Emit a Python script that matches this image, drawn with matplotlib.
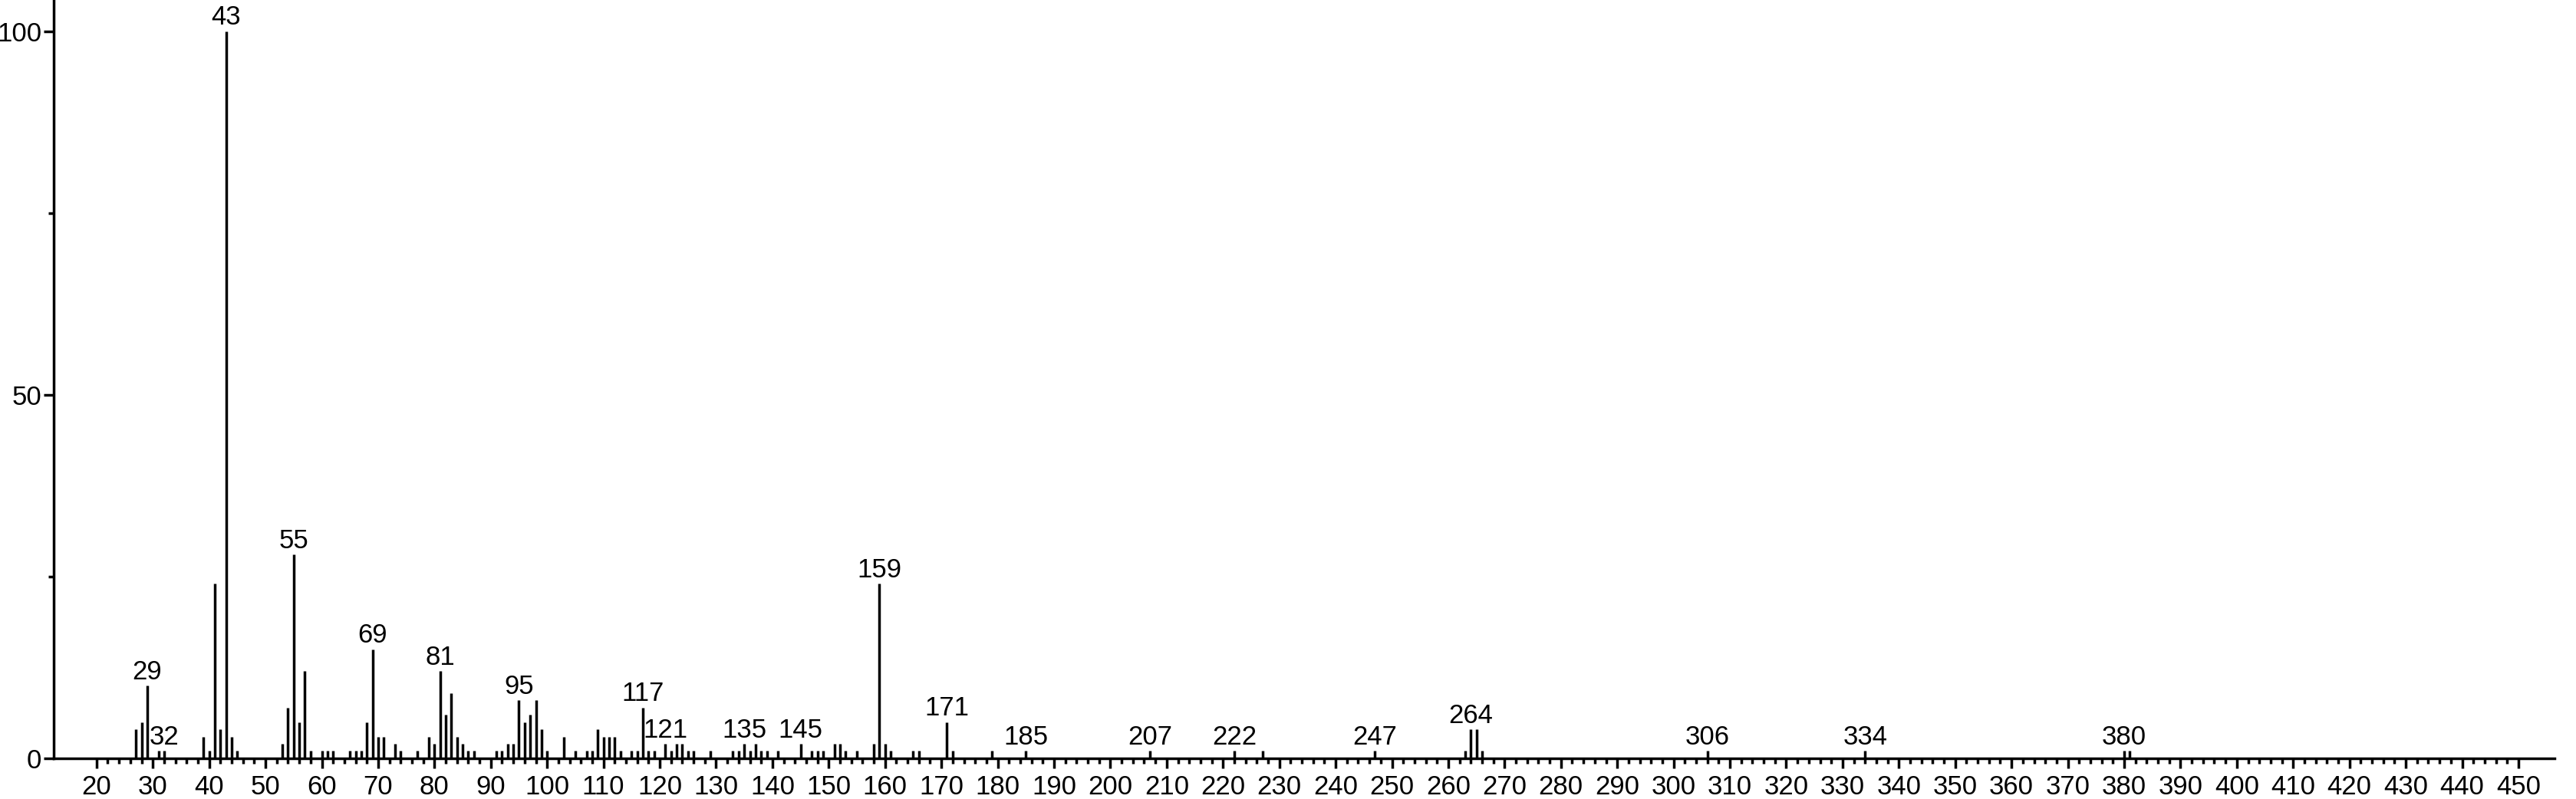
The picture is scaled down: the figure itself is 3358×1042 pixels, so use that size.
"""
Mass spectrum (EI) stick plot, relative abundance vs m/z.
"""

import numpy as np
import matplotlib
matplotlib.use("Agg")
import matplotlib.pyplot as plt
from matplotlib.ticker import FixedLocator


# Data

MZ = [
    27, 28, 29, 31, 32, 39, 40, 41, 42, 43, 44, 45,
    53, 54, 55, 56, 57, 58, 60, 61, 62,
    65, 66, 67, 68, 69, 70, 71, 73, 74, 77,
    79, 80, 81, 82, 83, 84, 85, 86, 87,
    91, 92, 93, 94, 95, 96, 97, 98, 99, 100, 103,
    105, 107, 108, 109, 110, 111, 112, 113, 115, 116, 117, 118, 119,
    121, 122, 123, 124, 125, 126, 129,
    133, 134, 135, 136, 137, 138, 139, 141,
    145, 147, 148, 149, 151, 152, 153, 155,
    158, 159, 160, 161, 165, 166, 171, 172, 179,
    185, 207, 222, 227, 247, 263, 264, 265, 266, 306, 334, 380, 381,
]
INTENSITY = [
    4, 5, 10, 1, 1, 3, 1, 24, 4, 100, 3, 1,
    2, 7, 28, 5, 12, 1, 1, 1, 1,
    1, 1, 1, 5, 15, 3, 3, 2, 1, 1,
    3, 2, 12, 6, 9, 3, 2, 1, 1,
    1, 1, 2, 2, 8, 5, 6, 8, 4, 1, 3,
    1, 1, 1, 4, 3, 3, 3, 1, 1, 1, 7, 1, 1,
    2, 1, 2, 2, 1, 1, 1,
    1, 1, 2, 1, 2, 1, 1, 1,
    2, 1, 1, 1, 2, 2, 1, 1,
    2, 24, 2, 1, 1, 1, 5, 1, 1,
    1, 1, 1, 1, 1, 1, 4, 4, 1, 1, 1, 1, 1,
]
LABELED_MZ = [29, 32, 43, 55, 69, 81, 95, 117, 121, 135, 145, 159,
              171, 185, 207, 222, 247, 264, 306, 334, 380]

X_MAJOR = list(range(20, 451, 10))
X_MINOR = [v for v in range(20, 451, 2) if v % 10]
Y_MAJOR = [0, 50, 100]
Y_MINOR = [25, 75]


# Style

C_INK = "#000000"
FONT = ["Liberation Sans", "DejaVu Sans"]
FS = 25
LW = 2.5

plt.rcParams["font.family"] = FONT

fig = plt.figure(figsize=(33.58, 10.42), dpi=100, facecolor="white")
ax = fig.add_axes([0.02085, 0.0509, 0.9708, 0.9491])

mz = np.array(MZ)
inten = np.array(INTENSITY)
ax.vlines(mz, 0, inten, color=C_INK, linewidth=LW)

lookup = dict(zip(MZ, INTENSITY))
for m in LABELED_MZ:
    ax.annotate(str(m), xy=(m, lookup[m]), xytext=(0, 1),
                textcoords="offset points", ha="center", va="bottom",
                fontsize=FS, color=C_INK, annotation_clip=False)

ax.set_xlim(12.4, 456.4)
ax.set_ylim(0, 104.3)

for side in ("top", "right"):
    ax.spines[side].set_visible(False)
for side in ("left", "bottom"):
    ax.spines[side].set_linewidth(LW)

ax.xaxis.set_major_locator(FixedLocator(X_MAJOR))
ax.xaxis.set_minor_locator(FixedLocator(X_MINOR))
ax.yaxis.set_major_locator(FixedLocator(Y_MAJOR))
ax.yaxis.set_minor_locator(FixedLocator(Y_MINOR))
ax.set_xticklabels([str(v) for v in X_MAJOR])
ax.set_yticklabels([str(v) for v in Y_MAJOR])

ax.tick_params(axis="x", which="major", length=9.5, width=LW,
               labelsize=FS, pad=6, direction="out")
ax.tick_params(axis="x", which="minor", length=5, width=LW, direction="out")
ax.tick_params(axis="y", which="major", length=9.5, width=LW,
               labelsize=FS, pad=2, direction="out")
ax.tick_params(axis="y", which="minor", length=5, width=LW, direction="out")

fig.savefig("out.png", dpi=100, facecolor="white")
